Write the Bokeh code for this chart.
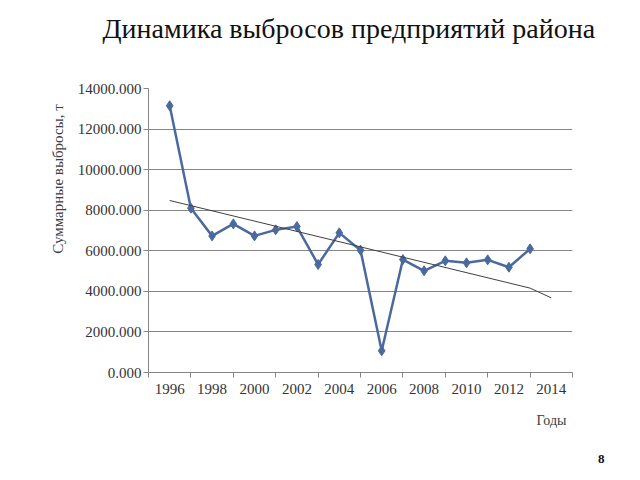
from bokeh.plotting import figure
from bokeh.models import Range1d, FixedTicker, PrintfTickFormatter, Title
from bokeh.embed import file_html
from bokeh.resources import INLINE

years = list(range(1996, 2014))
emissions = [13150, 8100, 6735, 7326, 6735, 7031, 7196, 5323, 6884, 6030,
             1069, 5569, 5012, 5505, 5406, 5554, 5190, 6096]
trend_years = [1996, 2013, 2014]
trend_vals = [8480, 4160, 3680]
label_years = list(range(1996, 2015, 2))
boundary_years = list(range(1995, 2016, 2))
y_ticks = list(range(0, 14001, 2000))

title_text = "Динамика выбросов предприятий района"
y_label_text = "Суммарные  выбросы, т"
x_label_text = "Годы"
page_number = "8"

FONT = "Liberation Serif"
GRID = "#868686"
LINE = "#4A6A9E"

p = figure(width=640, height=480, output_backend="svg", toolbar_location=None,
           x_range=Range1d(1995, 2015), y_range=Range1d(0, 14000),
           min_border_left=148, min_border_right=68, min_border_top=88,
           min_border_bottom=108)
p.outline_line_color = None
p.background_fill_color = "white"
p.border_fill_color = "white"

# main title
p.title.text = title_text
p.title.text_font = FONT
p.title.text_font_size = "28px"
p.title.text_font_style = "normal"
p.title.text_color = "#111111"
p.title.align = "left"
p.title.offset = -46
p.title.vertical_align = "top"
p.title.standoff = 0

# spacer between the frame and the main title
p.add_layout(Title(text=" ", text_font_size="2px", standoff=39), "above")

# x axis
xa = p.xaxis[0]
xa.ticker = FixedTicker(ticks=label_years, minor_ticks=boundary_years)
xa.major_tick_line_color = None
xa.major_tick_out = 0
xa.major_tick_in = 0
xa.minor_tick_out = 5
xa.minor_tick_in = 0
xa.minor_tick_line_color = GRID
xa.axis_line_color = GRID
xa.major_label_standoff = 6
xa.major_label_text_font = FONT
xa.major_label_text_font_size = "15px"
xa.major_label_text_color = "#333333"

# y axis
ya = p.yaxis[0]
ya.ticker = FixedTicker(ticks=y_ticks, minor_ticks=[])
ya.formatter = PrintfTickFormatter(format="%.3f")
ya.major_tick_out = 5
ya.major_tick_in = 0
ya.major_tick_line_color = GRID
ya.axis_line_color = GRID
ya.major_label_standoff = 2
ya.major_label_text_font = FONT
ya.major_label_text_font_size = "15px"
ya.major_label_text_color = "#333333"

p.xgrid.grid_line_color = None
p.ygrid.ticker = FixedTicker(ticks=y_ticks)
p.ygrid.grid_line_color = GRID
p.ygrid.grid_line_width = 1

# data
p.line(years, emissions, line_color=LINE, line_width=2.5)
p.scatter(years, emissions, marker="diamond", size=10,
          fill_color=LINE, line_color=LINE)
p.line(trend_years, trend_vals, line_color="#404040", line_width=1)

# side texts as titles in the side panels
p.add_layout(Title(text=y_label_text, text_font=FONT, text_font_size="15px",
                   text_font_style="normal", text_color="#404040",
                   align="right", offset=12, standoff=17), "left")
p.add_layout(Title(text=x_label_text, text_font=FONT, text_font_size="14px",
                   text_font_style="normal", text_color="#404040",
                   align="right", offset=6, standoff=28), "below")
p.add_layout(Title(text=page_number, text_font=FONT, text_font_size="13px",
                   text_font_style="bold", text_color="#111111",
                   align="right", offset=-32, standoff=22), "below")

open("out.html", "w").write(file_html(p, INLINE))
